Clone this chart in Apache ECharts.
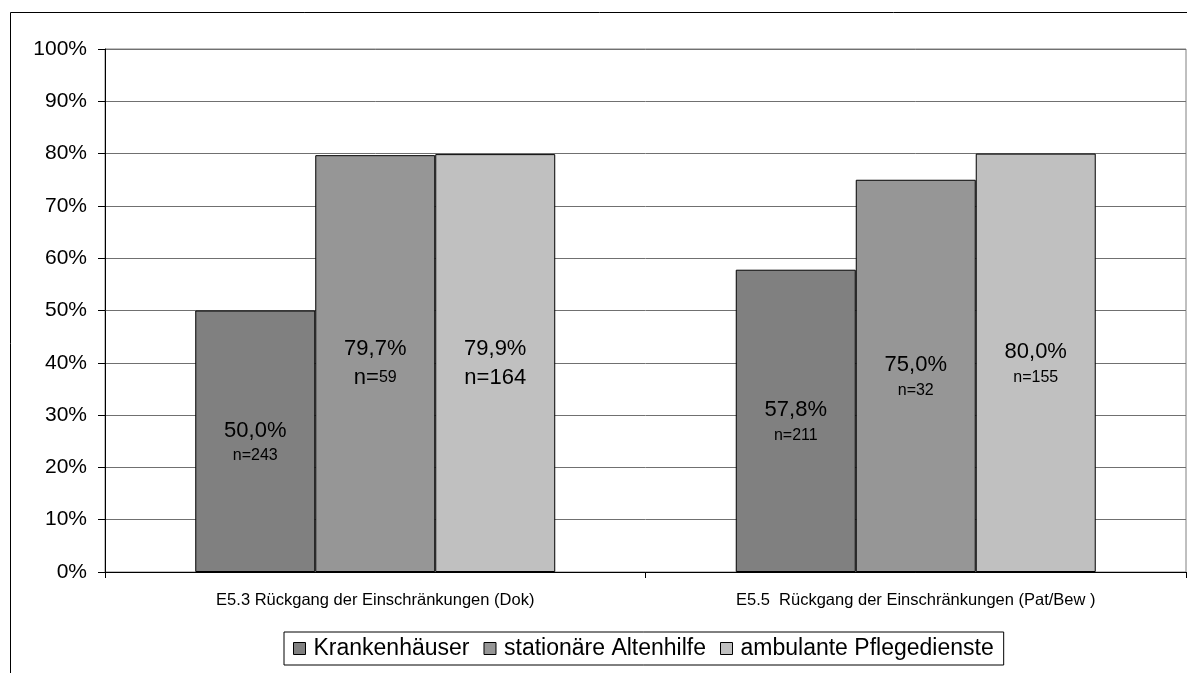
<!DOCTYPE html>
<html>
<head>
<meta charset="utf-8">
<script src="https://cdn.jsdelivr.net/npm/echarts@6/dist/echarts.min.js"></script>
<style>
  html, body { margin: 0; padding: 0; background: #fff; }
  #chart { width: 1187px; height: 673px; }
</style>
</head>
<body>
<div id="chart"></div>
<script>
// Categories (x axis)
const categories = [
  'E5.3 Rückgang der Einschränkungen (Dok)',
  'E5.5  Rückgang der Einschränkungen (Pat/Bew )'
];
// Series names
const seriesNames = ['Krankenhäuser', 'stationäre Altenhilfe', 'ambulante Pflegedienste'];
// Percent values per series
const krankenhaeuser = [50.0, 57.8];
const altenhilfe = [79.7, 75.0];
const pflegedienste = [79.9, 80.0];
// Sample sizes per series
const nKrankenhaeuser = [243, 211];
const nAltenhilfe = [59, 32];
const nPflegedienste = [164, 155];
// Y axis ticks
const yMin = 0, yMax = 100, yStep = 10;

const FONT = 'Liberation Sans, Arial, sans-serif';
const colors = ['#808080', '#969696', '#c0c0c0'];
const values = [krankenhaeuser, altenhilfe, pflegedienste];
const counts = [nKrankenhaeuser, nAltenhilfe, nPflegedienste];

// how the "n=" line is typeset for each bar: small, mixed (big "n=", small number) or big
const nStyle = [['s', 's'], ['m', 's'], ['b', 's']];

function fmtPct(v) { return v.toFixed(1).replace('.', ',') + '%'; }

const series = seriesNames.map((name, si) => ({
  name,
  type: 'bar',
  data: values[si],
  barWidth: '22.2%',
  barGap: '0%',
  itemStyle: { color: colors[si], borderColor: '#000', borderWidth: 1 },
  label: {
    show: true,
    position: 'inside',
    fontFamily: FONT,
    color: '#000',
    align: 'center',
    formatter: p => {
      const n = counts[si][p.dataIndex];
      const st = nStyle[si][p.dataIndex];
      let second;
      if (st === 'b') second = '{big|n=' + n + '}';
      else if (st === 'm') second = '{big|n=}{sm|' + n + '}';
      else second = '{sm|n=' + n + '}';
      return '{big|' + fmtPct(p.value) + '}\n' + second;
    },
    rich: {
      big: { fontSize: 22, fontFamily: FONT, color: '#000', lineHeight: 29 },
      sm: { fontSize: 16, fontFamily: FONT, color: '#000', lineHeight: 21 }
    }
  }
}));

const chart = echarts.init(document.getElementById('chart'), null, { renderer: 'canvas' });
chart.setOption({
  animation: false,
  backgroundColor: '#fff',
  color: colors,
  graphic: [{
    type: 'rect',
    shape: { x: 10.5, y: 12.5, width: 1300, height: 800 },
    style: { fill: 'none', stroke: '#000', lineWidth: 1 },
    silent: true,
    z: -10
  }],
  grid: {
    left: 105, right: 1, top: 49, bottom: 101,
    show: true, borderColor: '#808080', borderWidth: 1, backgroundColor: 'transparent'
  },
  legend: {
    data: seriesNames,
    left: 284, top: 632,
    orient: 'horizontal',
    icon: 'rect',
    itemWidth: 12, itemHeight: 12, itemGap: 14,
    padding: [5, 10, 5, 9],
    borderColor: '#000', borderWidth: 1, backgroundColor: '#fff',
    textStyle: { fontSize: 23, fontFamily: FONT, color: '#000', padding: [0, 0, 0, 3] },
    itemStyle: { borderColor: '#000', borderWidth: 1 }
  },
  xAxis: {
    type: 'category',
    data: categories,
    boundaryGap: true,
    axisLine: { lineStyle: { color: '#000', width: 1 } },
    axisTick: { show: true, length: 6, lineStyle: { color: '#000' } },
    axisLabel: { fontSize: 16.5, fontFamily: FONT, color: '#000', margin: 20 },
    splitLine: { show: false }
  },
  yAxis: {
    type: 'value',
    min: yMin, max: yMax, interval: yStep,
    axisLine: { show: true, lineStyle: { color: '#000', width: 1 } },
    axisTick: { show: true, length: 7, lineStyle: { color: '#000' } },
    axisLabel: { formatter: '{value}%', fontSize: 21, fontFamily: FONT, color: '#000', margin: 18 },
    splitLine: { show: true, lineStyle: { color: '#707070', width: 1 } }
  },
  series
});
</script>
</body>
</html>
